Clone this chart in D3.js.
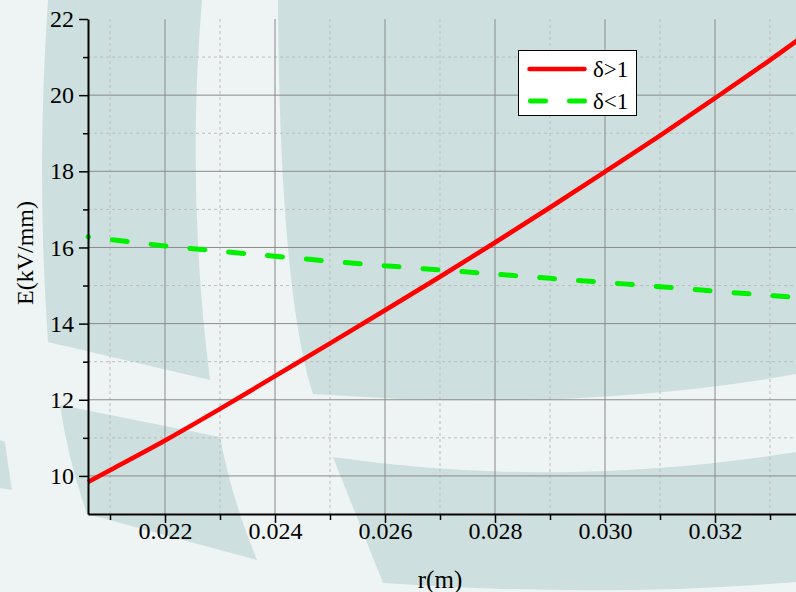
<!DOCTYPE html>
<html>
<head>
<meta charset="utf-8">
<script src="https://cdn.jsdelivr.net/npm/d3@7"></script>
<style>
  html, body { margin: 0; padding: 0; background: #eef3f3; }
  svg { display: block; }
  text { font-family: "Liberation Serif", "Times New Roman", serif; fill: #000; }
</style>
</head>
<body>
<svg id="chart" width="796" height="592"></svg>
<script>
// Radius r (m) at which the field strength was evaluated
const rValues = [0.0206, 0.021, 0.022, 0.023, 0.024, 0.025, 0.026, 0.027, 0.028, 0.029, 0.030, 0.031, 0.032, 0.033, 0.034];
// Field strength E (kV/mm) for δ>1
const eAbove  = [9.84, 10.15, 10.93, 11.76, 12.62, 13.48, 14.35, 15.23, 16.13, 17.05, 17.99, 18.94, 19.92, 20.92, 21.97];
// Field strength E (kV/mm) for δ<1
const eBelow  = [16.28, 16.21, 16.04, 15.90, 15.77, 15.64, 15.52, 15.41, 15.30, 15.19, 15.08, 14.97, 14.85, 14.74, 14.63];

const seriesNames = ["δ>1", "δ<1"];
const xMajorTicks = [0.022, 0.024, 0.026, 0.028, 0.030, 0.032];
const xMinorTicks = [0.021, 0.023, 0.025, 0.027, 0.029, 0.031, 0.033];
const yMajorTicks = [10, 12, 14, 16, 18, 20, 22];
const yMinorTicks = [11, 13, 15, 17, 19, 21];
const xTitle = "r(m)";
const yTitle = "E(kV/mm)";

const svg = d3.select("#chart");
const W = 796, H = 592;
const SERIF = "'Liberation Serif', 'Times New Roman', serif";

// Backdrop with soft decorative bands
svg.append("rect").attr("width", W).attr("height", H).attr("fill", "#eef3f3");
const bands = [
  "M48,0 L202,0 Q186,190 210,380 L48,342 Q36,170 48,0 Z",
  "M278,0 L796,0 L796,374 Q620,406 400,399 L313,394 C292,330 279,200 278,0 Z",
  "M333,457 Q560,490 796,452 L796,582 Q600,598 383,583 Z",
  "M60,405 L220,437 Q232,500 257,560 L87,514 Q68,460 60,405 Z",
  "M0,440 L5,442 Q8,465 12,490 L0,488 Z"
];
svg.append("g").selectAll("path").data(bands).join("path")
  .attr("d", d => d).attr("fill", "#cde0df");

// Scales
const x = d3.scaleLinear().domain([0.0206, 0.034]).range([88, 825]);
const y = d3.scaleLinear().domain([9, 22]).range([514, 19]);

// Grid
const grid = svg.append("g");
grid.selectAll(".vminor").data(xMinorTicks).join("line")
  .attr("x1", d => x(d)).attr("x2", d => x(d))
  .attr("y1", y(22)).attr("y2", y(9))
  .attr("stroke", "#bdbdbd").attr("stroke-width", 1).attr("stroke-dasharray", "3,3");
grid.selectAll(".hminor").data(yMinorTicks).join("line")
  .attr("x1", x(0.0206)).attr("x2", W)
  .attr("y1", d => y(d)).attr("y2", d => y(d))
  .attr("stroke", "#bdbdbd").attr("stroke-width", 1).attr("stroke-dasharray", "3,3");
grid.selectAll(".vmajor").data(xMajorTicks).join("line")
  .attr("x1", d => x(d)).attr("x2", d => x(d))
  .attr("y1", y(22)).attr("y2", y(9))
  .attr("stroke", "#8a8a8a").attr("stroke-width", 1);
grid.selectAll(".hmajor").data(yMajorTicks.filter(v => v < 22)).join("line")
  .attr("x1", x(0.0206)).attr("x2", W)
  .attr("y1", d => y(d)).attr("y2", d => y(d))
  .attr("stroke", "#8a8a8a").attr("stroke-width", 1);

// Series
const pts = (vals) => rValues.map((r, i) => [r, vals[i]]);
const line = d3.line().x(d => x(d[0])).y(d => y(d[1])).curve(d3.curveMonotoneX);

svg.append("path").datum(pts(eBelow))
  .attr("d", line).attr("fill", "none")
  .attr("stroke", "#00f000").attr("stroke-width", 5)
  .attr("stroke-linecap", "round")
  .attr("stroke-dasharray", "15,24").attr("stroke-dashoffset", 14.5);

svg.append("path").datum(pts(eAbove))
  .attr("d", line).attr("fill", "none")
  .attr("stroke", "#ff0000").attr("stroke-width", 4.5);

// Axes
const axisFont = g => {
  g.attr("font-family", SERIF).attr("font-size", 24);
  g.selectAll("text").attr("font-family", SERIF).attr("font-size", 24)
    .style("font-family", SERIF).style("font-size", "24px").attr("fill", "#000");
};

const xAxis = svg.append("g").attr("transform", `translate(0,${y(9)})`)
  .call(d3.axisBottom(x).tickValues(xMajorTicks).tickSize(9).tickSizeOuter(0)
    .tickFormat(d3.format(".3f")).tickPadding(6));
xAxis.select(".domain").attr("stroke", "#000").attr("stroke-width", 2);
xAxis.selectAll(".tick line").attr("stroke", "#000").attr("stroke-width", 1.5);
xAxis.call(axisFont);
xAxis.selectAll("text").attr("y", 25).attr("dy", 0);

const xMinor = svg.append("g").attr("transform", `translate(0,${y(9)})`)
  .call(d3.axisBottom(x).tickValues(xMinorTicks).tickSize(6).tickFormat(""));
xMinor.select(".domain").remove();
xMinor.selectAll(".tick line").attr("stroke", "#000").attr("stroke-width", 1.5);

const yAxis = svg.append("g").attr("transform", `translate(${x(0.0206)},0)`)
  .call(d3.axisLeft(y).tickValues(yMajorTicks).tickSize(9).tickSizeOuter(0)
    .tickFormat(d3.format("d")).tickPadding(5));
yAxis.select(".domain").attr("stroke", "#000").attr("stroke-width", 2);
yAxis.selectAll(".tick line").attr("stroke", "#000").attr("stroke-width", 1.5);
yAxis.call(axisFont);

const yMinor = svg.append("g").attr("transform", `translate(${x(0.0206)},0)`)
  .call(d3.axisLeft(y).tickValues(yMinorTicks).tickSize(5).tickFormat(""));
yMinor.select(".domain").remove();
yMinor.selectAll(".tick line").attr("stroke", "#000").attr("stroke-width", 1.5);

// Axis titles
svg.append("text").attr("x", 440).attr("y", 588)
  .attr("text-anchor", "middle").style("font-size", "25px").text(xTitle);
svg.append("text").attr("transform", "translate(33,253) rotate(-90)")
  .attr("text-anchor", "middle").style("font-size", "24px").text(yTitle);

// Legend
const legend = svg.append("g");
legend.append("rect").attr("x", 518.5).attr("y", 50.5).attr("width", 118).attr("height", 65)
  .attr("fill", "#fff").attr("stroke", "#000").attr("stroke-width", 1);
const legendRows = [
  { name: seriesNames[0], color: "#ff0000", dash: null, y: 69 },
  { name: seriesNames[1], color: "#00f000", dash: "15,24", y: 101 }
];
legendRows.forEach(r => {
  legend.append("line")
    .attr("x1", r.dash ? 530.5 : 529.5).attr("x2", 584.5)
    .attr("y1", r.y).attr("y2", r.y)
    .attr("stroke", r.color).attr("stroke-width", r.dash ? 5 : 4.5)
    .attr("stroke-linecap", "round")
    .attr("stroke-dasharray", r.dash);
  legend.append("text").attr("x", 593).attr("y", r.y + 8)
    .style("font-size", "23px").text(r.name);
});
</script>
</body>
</html>
